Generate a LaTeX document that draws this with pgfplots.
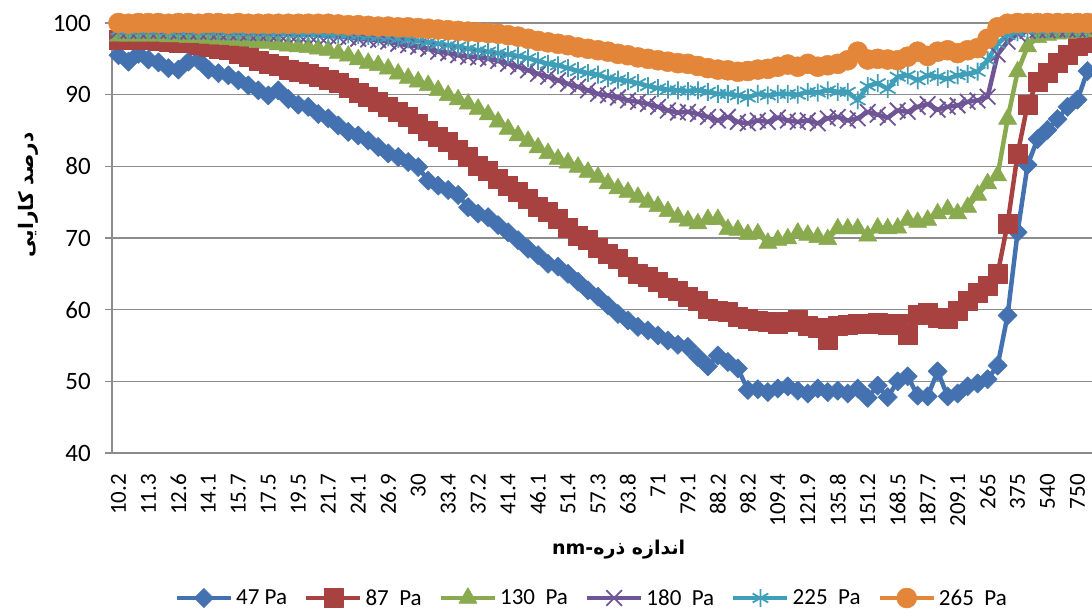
\documentclass[border=0pt]{standalone}
\usepackage{fontspec}
\setmainfont{Carlito}
\newfontfamily\farsi[Script=Arabic]{DejaVu Sans}
\TeXXeTstate=1
\usepackage{pgfplots}
\pgfplotsset{compat=1.18}
\usepackage{pgfplotstable}
\usetikzlibrary{calc}
\definecolor{cA}{RGB}{68,114,176}
\definecolor{cB}{RGB}{167,66,64}
\definecolor{cC}{RGB}{137,170,78}
\definecolor{cD}{RGB}{111,85,150}
\definecolor{cE}{RGB}{63,158,184}
\definecolor{cF}{RGB}{227,134,58}
\definecolor{gridg}{RGB}{140,140,140}

\pgfplotstableread{
i a b c d e f
0 95.5 97.6 98.2 98.9 99.0 100.0
1 94.6 97.6 98.2 98.9 99.0 99.9
2 95.7 97.6 98.2 98.9 99.0 100.0
3 94.9 97.6 98.2 98.9 99.0 100.0
4 94.5 97.5 98.2 98.9 99.0 100.0
5 93.7 97.4 98.1 98.9 98.9 99.9
6 93.5 97.3 98.1 98.8 98.9 100.0
7 94.6 97.2 98.0 98.8 98.9 100.0
8 94.8 97.0 98.0 98.8 98.9 99.9
9 93.5 96.7 97.9 98.8 98.9 100.0
10 93.0 96.4 97.8 98.7 98.9 100.0
11 92.7 96.2 97.7 98.7 98.8 99.9
12 92.0 95.7 97.6 98.7 98.8 100.0
13 91.3 95.3 97.5 98.6 98.8 99.9
14 90.6 94.8 97.3 98.6 98.8 99.9
15 89.9 94.3 97.2 98.6 98.7 99.9
16 90.6 94.0 97.0 98.5 98.7 99.9
17 89.4 93.5 96.8 98.5 98.7 99.9
18 88.6 93.2 96.7 98.4 98.6 99.9
19 88.3 92.9 96.6 98.4 98.6 99.9
20 87.3 92.5 96.4 98.3 98.6 99.9
21 86.7 92.1 96.2 98.2 98.5 99.9
22 85.7 91.7 95.8 98.1 98.5 99.8
23 84.8 90.9 95.4 98.0 98.4 99.7
24 84.3 90.2 94.9 97.8 98.3 99.7
25 83.6 89.7 94.4 97.7 98.2 99.6
26 82.7 89.0 94.1 97.6 98.1 99.5
27 81.8 88.3 93.6 97.4 98.0 99.5
28 81.3 87.6 92.9 97.1 97.8 99.4
29 80.6 86.9 92.3 96.9 97.7 99.4
30 79.9 86.0 91.8 96.7 97.5 99.3
31 78.0 85.0 91.3 96.4 97.3 99.2
32 77.3 84.1 90.6 96.0 97.1 99.1
33 76.7 83.4 89.9 95.8 96.9 99.0
34 76.0 82.3 89.3 95.5 96.7 98.9
35 74.3 81.3 88.7 95.3 96.4 98.8
36 73.4 80.1 88.0 95.2 96.2 98.7
37 72.9 79.4 87.2 95.0 96.0 98.6
38 71.8 78.3 86.2 94.7 95.8 98.5
39 70.8 77.3 85.2 94.3 95.6 98.3
40 69.7 76.4 84.3 93.9 95.4 98.1
41 68.5 75.5 83.5 93.4 95.1 97.8
42 67.6 74.3 82.6 92.9 94.7 97.5
43 66.4 73.6 81.8 92.5 94.3 97.3
44 66.0 72.7 81.0 92.0 94.1 97.1
45 65.0 71.5 80.5 91.5 93.7 96.9
46 63.9 70.3 79.9 91.1 93.3 96.6
47 62.7 69.7 79.2 90.6 93.0 96.4
48 61.8 68.7 78.5 90.1 92.8 96.2
49 60.6 67.8 77.6 89.9 92.3 96.0
50 59.4 67.1 76.9 89.6 92.1 95.7
51 58.5 66.0 76.4 89.2 91.9 95.5
52 57.6 65.0 75.7 89.0 91.6 95.2
53 57.1 64.6 75.0 88.7 91.2 95.0
54 56.4 63.9 74.4 88.3 90.9 94.8
55 55.7 63.1 73.7 87.8 90.7 94.6
56 55.1 62.7 72.9 87.5 90.6 94.4
57 54.8 61.8 72.4 87.6 90.5 94.3
58 53.4 61.3 72.0 87.3 90.6 94.0
59 52.1 60.1 72.6 86.9 90.4 93.7
60 53.6 59.9 72.6 86.4 90.1 93.5
61 52.7 59.7 71.2 86.9 90.1 93.4
62 51.8 59.0 71.1 86.2 89.9 93.2
63 48.8 58.7 70.5 86.0 89.6 93.3
64 48.9 58.4 70.6 86.4 90.1 93.5
65 48.5 58.3 69.3 86.2 89.9 93.6
66 49.0 58.0 69.7 86.8 90.1 93.9
67 49.3 58.3 69.9 86.4 90.1 94.2
68 48.7 58.6 70.7 86.2 90.0 93.9
69 48.3 57.8 70.4 86.4 90.4 94.3
70 49.0 57.5 70.1 86.0 90.3 93.9
71 48.5 55.8 69.8 86.7 90.6 94.1
72 48.7 57.8 71.3 86.9 90.4 94.3
73 48.3 57.9 71.3 86.4 90.4 94.8
74 49.0 58.0 71.3 86.7 89.2 96.0
75 47.7 58.0 70.3 87.6 91.2 94.9
76 49.4 58.2 71.4 87.2 91.6 95.0
77 47.8 57.9 71.3 86.8 90.8 94.9
78 50.0 58.0 71.4 87.8 92.5 94.8
79 50.7 56.5 72.5 87.6 92.7 95.3
80 48.0 59.3 72.2 88.3 92.0 96.0
81 47.9 59.6 72.5 88.7 92.7 95.4
82 51.4 58.9 73.4 87.9 92.5 96.0
83 47.9 58.7 74.0 88.3 92.2 96.2
84 48.3 59.8 73.4 88.5 92.7 95.8
85 49.3 61.2 74.3 89.0 92.9 96.2
86 49.7 62.3 76.0 89.2 93.2 96.5
87 50.3 63.4 77.6 89.7 94.8 97.8
88 52.2 65.0 78.7 95.6 97.1 99.4
89 59.2 72.0 86.6 97.4 98.3 99.9
90 70.8 81.7 93.2 98.5 98.7 100.0
91 80.2 88.6 96.7 98.9 99.0 100.0
92 83.8 91.8 98.0 99.0 99.1 100.0
93 85.1 93.0 98.3 99.0 99.1 100.0
94 86.6 94.4 98.5 99.1 99.2 100.0
95 88.3 95.6 98.6 99.1 99.2 100.0
96 89.3 96.8 98.7 99.1 99.2 100.0
97 93.3 97.3 98.8 99.1 99.2 100.0
}\data

\begin{document}
\begin{tikzpicture}
\begin{axis}[
  scale only axis, width=980pt, height=430pt,
  xmin=-0.65, xmax=97.45, ymin=40, ymax=100,
  clip=false,
  axis lines=left,
  axis line style={-, draw=gridg, line width=1.5pt},
  ymajorgrids, grid style={draw=gridg, line width=1.5pt},
  ytick={40,50,...,100},
  xtick={0,3,...,96},
  xticklabels={10.2,11.3,12.6,14.1,15.7,17.5,19.5,21.7,24.1,26.9,30,33.4,37.2,41.4,46.1,51.4,57.3,63.8,71,79.1,88.2,98.2,109.4,121.9,135.8,151.2,168.5,187.7,209.1,265,375,540,750},
  xtick style={draw=none},
  tick align=outside,
  ytick style={draw=gridg, line width=1.5pt},
  major tick length=7pt,
  /pgf/number format/assume math mode=true,
  xticklabel style={font=\fontsize{23}{27}\selectfont, rotate=90, anchor=east, inner xsep=14pt, inner ysep=0pt},
  yticklabel style={font=\fontsize{25}{29}\selectfont, anchor=east, inner xsep=14pt},
  xlabel={\farsi\bfseries\beginR اندازه ذره-\beginL nm\endL\endR},
  xlabel style={at={(axis description cs:0.517,0)}, anchor=center, yshift=-97pt, font=\fontsize{19}{23}\selectfont},
  ylabel={\farsi\bfseries\beginR درصد کارایی\endR},
  ylabel style={at={(axis description cs:-0.085,0.6)}, anchor=center, font=\fontsize{20}{24}\selectfont},
  legend columns=6,
  legend style={at={(axis description cs:0.49,0)}, anchor=center, yshift=-145pt, draw=none, fill=none,
    font=\fontsize{23}{27}\selectfont, /tikz/every even column/.append style={column sep=14pt},
    nodes={inner xsep=3pt}},
  legend image code/.code={\draw[#1, mark repeat=2, mark phase=2] plot coordinates {(0pt,0pt) (27pt,0pt) (54pt,0pt)};},
  every axis plot/.append style={line width=4.5pt, line join=round},
]
\addplot[cA, mark=square*, mark size=6.8pt, mark options={rotate=45, line width=0.5pt, solid}] table[x=i,y=a]{\data};
\addplot[cB, mark=square*, mark size=9.5pt, mark options={line width=0.5pt, solid}] table[x=i,y=b]{\data};
\addplot[cC, mark=triangle*, mark size=10.5pt, mark options={line width=0.5pt, solid}] table[x=i,y=c]{\data};
\addplot[cD, mark=x, mark size=11pt, mark options={line width=1.8pt, solid}] table[x=i,y=d]{\data};
\addplot[cE, mark=asterisk, mark size=9pt, mark options={line width=1.8pt, solid}] table[x=i,y=e]{\data};
\addplot[cF, mark=*, mark size=10pt, mark options={line width=0.5pt, solid}] table[x=i,y=f]{\data};
\legend{47 Pa, 87\ \ Pa, 130\ \ Pa, 180\ \ Pa, 225\ \ Pa, 265\ \ Pa}
\coordinate (bl) at (rel axis cs:0,0);
\coordinate (tr) at (rel axis cs:1,1);
\end{axis}
\pgfresetboundingbox
\path ($(bl)+(-112pt,-160pt)$) rectangle ($(tr)+(0pt,23pt)$);
\end{tikzpicture}
\end{document}
